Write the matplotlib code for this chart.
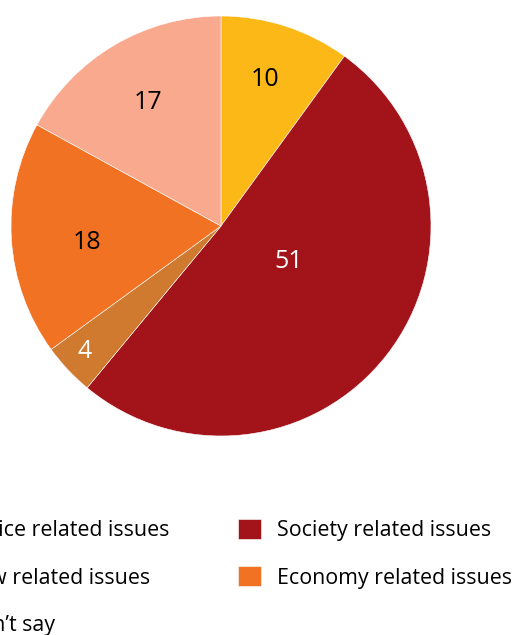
import matplotlib
matplotlib.use("Agg")
import matplotlib.pyplot as plt

plt.rcParams['font.family'] = ['Open Sans', 'DejaVu Sans']

# data (clockwise from 12 o'clock)
categories = ["Police related issues", "Society related issues", "Law related issues",
              "Economy related issues", "Can\u2019t say"]
shares = [10, 51, 4, 18, 17]
colors = ["#FBB817", "#A3141A", "#CF7A2E", "#F27224", "#F8A98E"]
label_colors = ["black", "white", "white", "black", "black"]

# where each number sits inside its slice (fraction of radius)
label_pos = [(0.21, 0.70), (0.32, -0.167), (-0.65, -0.60), (-0.64, -0.08), (-0.35, 0.59)]

fig = plt.figure(figsize=(5.16, 6.35), dpi=100)
ax = fig.add_axes([0.0213, 0.3134, 0.814, 0.6614])

wedges, _ = ax.pie(shares, colors=colors, startangle=90, counterclock=False,
                   radius=1, wedgeprops=dict(linewidth=0.4, edgecolor="white"))
ax.set_xlim(-1, 1)
ax.set_ylim(-1, 1)
ax.set_aspect("equal")
ax.axis("off")

for val, (x, y), c in zip(shares, label_pos, label_colors):
    ax.text(x, y, str(val), ha="center", va="center", fontsize=18, color=c)

# legend is read row by row; matplotlib fills columns first, so reorder
order = [0, 2, 4, 1, 3]
fig.legend([wedges[i] for i in order], [categories[i] for i in order],
           ncol=2, loc="upper left",
           bbox_to_anchor=(-72 / 516, 1 - 519 / 635), bbox_transform=fig.transFigure,
           frameon=False, fontsize=15.4, handlelength=1.07, handleheight=1.07,
           handletextpad=0.75, columnspacing=3.2, labelspacing=1.16,
           borderpad=0, borderaxespad=0)

fig.savefig("out.png", dpi=100)
